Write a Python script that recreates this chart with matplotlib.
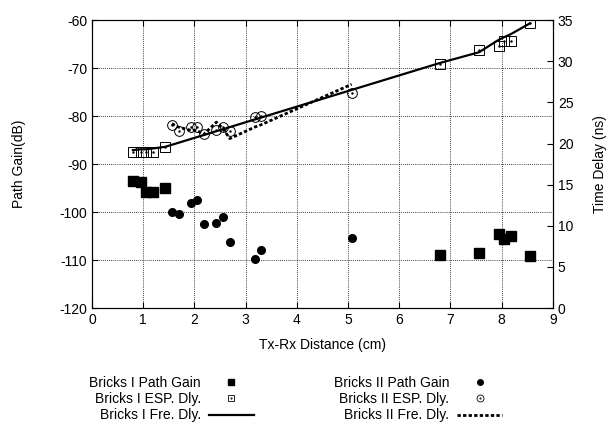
import matplotlib.pyplot as plt
from matplotlib.lines import Line2D
from matplotlib.legend_handler import HandlerTuple

plt.rcParams['font.family'] = ['Liberation Sans', 'DejaVu Sans']
plt.rcParams['font.size'] = 10
plt.rcParams['axes.unicode_minus'] = False

# Bricks I: distance (cm), path gain (dB), measured and free-space delay (ns)
d1 = [0.80, 0.95, 1.06, 1.19, 1.43, 6.80, 7.56, 7.94, 8.04, 8.18, 8.55]
gain1 = [-93.5, -93.8, -95.9, -95.9, -94.9, -109.0, -108.6, -104.6, -105.7, -104.9, -109.2]
esp1 = [19.0, 19.0, 19.0, 19.0, 19.6, 29.7, 31.4, 31.9, 32.4, 32.5, 34.6]
fre1 = [19.2, 19.3, 19.3, 19.4, 19.6, 29.8, 31.1, 32.6, 32.9, 33.3, 34.6]

# Bricks II
d2 = [1.56, 1.69, 1.93, 2.05, 2.18, 2.43, 2.56, 2.69, 3.18, 3.31, 5.07]
gain2 = [-99.9, -100.3, -98.2, -97.5, -102.4, -102.3, -101.0, -106.3, -109.8, -108.0, -105.4]
esp2 = [22.3, 21.5, 22.0, 22.0, 21.1, 21.7, 22.0, 21.5, 23.2, 23.4, 26.2]
fre2 = [22.4, 22.0, 21.6, 21.6, 21.1, 22.6, 21.8, 20.6, 22.0, 22.3, 27.2]

fig = plt.figure(figsize=(6.13, 4.37), dpi=100)
ax = fig.add_axes([0.150, 0.295, 0.752, 0.659])
ax2 = ax.twinx()

# path gain on the left axis
ax.plot(d1, gain1, 's', color='k', ms=6.5, ls='none')
ax.plot(d2, gain2, 'o', color='k', ms=5.5, ls='none')

# delays on the right axis
ax2.plot(d1, fre1, '-', color='k', lw=1.6)
ax2.plot(d2, fre2, color='k', lw=2, ls=(0, (1.2, 0.8)))
ax2.plot(d1, esp1, 's', mfc='none', mec='k', mew=0.7, ms=6.5, ls='none')
ax2.plot(d1, esp1, '.', color='k', ms=1.5, ls='none')
ax2.plot(d2, esp2, 'o', mfc='none', mec='k', mew=0.7, ms=7, ls='none')
ax2.plot(d2, esp2, '.', color='k', ms=1.5, ls='none')

ax.set_xlim(0, 9)
ax.set_ylim(-120, -60)
ax.set_xticks(range(0, 10))
ax.set_yticks(range(-120, -59, 10))
ax2.set_ylim(0, 35)
ax2.set_yticks(range(0, 36, 5))

ax.grid(True, color='k', ls=(0, (1, 1.5)), lw=0.6)
ax.tick_params(direction='in', length=4, top=True, right=False, labelsize=10)
ax2.tick_params(direction='in', length=4, labelsize=10)
for a in (ax, ax2):
    for s in a.spines.values():
        s.set_linewidth(0.8)

ax.set_xlabel('Tx-Rx Distance (cm)', fontsize=10, labelpad=8)
ax.set_ylabel('Path Gain(dB)', fontsize=10, labelpad=24)
ax2.set_ylabel('Time Delay (ns)', fontsize=10, labelpad=14)

# legend in two columns below the axes
def dot_marker(m):
    return (Line2D([], [], marker=m, mfc='none', mec='k', mew=0.6, ms=5, ls='none'),
            Line2D([], [], marker='.', color='k', ms=1, ls='none'))

h1 = [Line2D([], [], marker='s', color='k', ms=5, ls='none'),
      dot_marker('s'),
      Line2D([], [], color='k', lw=1.6)]
l1 = ['Bricks I Path Gain', 'Bricks I ESP. Dly.', 'Bricks I Fre. Dly.']
h2 = [Line2D([], [], marker='o', color='k', ms=4, ls='none'),
      dot_marker('o'),
      Line2D([], [], color='k', lw=2, ls=(0, (1.2, 0.8)))]
l2 = ['Bricks II Path Gain', 'Bricks II ESP. Dly.', 'Bricks II Fre. Dly.']

for h, l, x in ((h1, l1, 0.425), (h2, l2, 0.83)):
    leg = fig.legend(h, l, loc='upper right', bbox_to_anchor=(x, 0.155),
                     frameon=False, markerfirst=False, handlelength=3.2,
                     handletextpad=0.6, labelspacing=0.15, borderpad=0,
                     fontsize=10, handler_map={tuple: HandlerTuple(ndivide=1)})
    for t in leg.get_texts():
        t.set_ha('right')

fig.savefig('out.png', dpi=100)
